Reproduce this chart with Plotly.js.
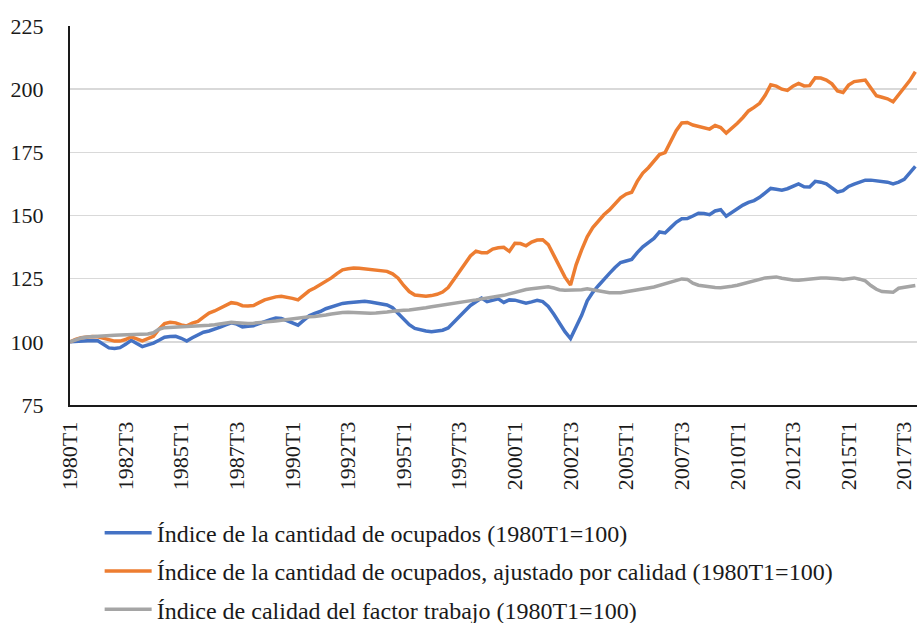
<!DOCTYPE html>
<html>
<head>
<meta charset="utf-8">
<script src="https://cdn.plot.ly/plotly-3.0.1.min.js"></script>
<style>html,body{margin:0;padding:0;background:#fff;}#chart{width:917px;height:623px;}</style>
</head>
<body>
<div id="chart"></div>
<script>
// Quarterly categories 1980T1 .. 2018T1
const startYear = 1980;
const nQuarters = 153;
const quarters = [];
for (let k = 0; k < nQuarters; k++) {
  quarters.push((startYear + Math.floor(k / 4)) + "T" + (k % 4 + 1));
}

const tickLabels = ["1980T1","1982T3","1985T1","1987T3","1990T1","1992T3","1995T1","1997T3",
  "2000T1","2002T3","2005T1","2007T3","2010T1","2012T3","2015T1","2017T3"];

const seriesNames = [
  "Índice de la cantidad de ocupados (1980T1=100)",
  "Índice de la cantidad de ocupados, ajustado por calidad (1980T1=100)",
  "Índice de calidad del factor trabajo (1980T1=100)"
];

const ocupados = [
100,100.2,100.3,100.4,100.5,100.4,99,97.6,97.4,97.7,
99,100.6,99.3,98.1,98.8,99.5,100.6,101.8,102.1,102.2,
101.4,100.3,101.6,102.9,103.8,104.3,104.9,105.8,106.7,107.5,
107,105.9,106.2,106.4,107.2,108.1,108.8,109.4,109.2,108.4,
107.5,106.6,108.5,110.3,111.3,112,113.1,113.9,114.6,115.2,
115.5,115.8,116,116.1,115.8,115.4,115,114.6,113.5,111.2,
109,106.8,105.3,104.7,104.3,104,104.2,104.6,105.5,107.6,
109.9,112.2,114.4,116,117.3,115.9,116.4,117,115.6,116.6,
116.5,116,115.3,115.8,116.4,115.9,114,110.9,107.5,104,
101.3,106,110.5,116.2,119.6,122.2,124.8,127.1,129.4,131.4,
132,132.6,135.3,137.6,139.3,140.9,143.5,143.1,145.2,147.3,
148.7,148.8,149.8,150.9,150.8,150.3,151.8,152.3,149.7,151.2,
152.7,154.1,155.2,155.9,157.2,159.1,160.7,160.4,160,160.6,
161.7,162.5,161.4,161.3,163.5,163.2,162.5,161.1,159.3,159.8,
161.5,162.4,163.3,164,164,163.8,163.6,163.2,162.5,163.2,
164.3,166.7,169.4];

const ajustado = [
100,101,101.6,102,102.1,102,101.4,100.6,100.3,100.3,
100.9,102,101.2,100.4,101.3,102.2,105,107.2,107.7,107.5,
106.7,106.3,107.4,108.1,109.8,111.4,112.2,113.2,114.2,115.5,
115.2,114.3,114.2,114.4,115.5,116.6,117.2,117.8,118,117.7,
117.2,116.6,118.5,120.2,121.3,122.6,124,125.3,127,128.5,
128.9,129.2,129.1,128.8,128.5,128.2,127.9,127.9,126.9,125.2,
122.3,119.9,118.5,118.2,118,118.3,118.8,119.7,121.5,124.6,
127.7,130.9,134,135.9,135.3,135.3,136.7,137.2,137.4,135.8,
139,138.9,138,139.5,140.3,140.4,138.5,134.2,130.2,125.6,
122.5,130.5,136.4,141.6,145.2,147.8,150.3,152.2,154.6,157,
158.5,159.2,163.5,166.8,168.9,171.4,174.1,174.9,179.3,183.6,
186.6,186.8,185.8,185.3,184.6,184.2,185.6,184.8,182.6,184.4,
186.5,188.8,191.4,192.8,194.4,197.6,201.7,201.2,200,199.5,
201.2,202.3,201.3,201.4,204.5,204.4,203.6,202.1,199.3,198.7,
201.6,203,203.2,203.6,200.5,197.4,196.8,196.2,195,197.8,
201.1,203.4,206.9];

const calidad = [
100,100.9,101.5,101.9,102.1,102.2,102.3,102.5,102.6,102.7,
102.8,102.9,102.8,102.9,103.1,103.6,105,105.6,105.7,105.8,
105.8,105.9,106.1,106.2,106.4,106.6,106.8,107.1,107.4,107.7,
107.6,107.3,107.3,107.4,107.5,107.7,108,108.2,108.5,108.8,
109.1,109.4,109.8,109.9,110,110.2,110.6,111,111.4,111.6,
111.7,111.6,111.4,111.2,111.3,111.4,111.5,111.8,112.1,112.4,
112.5,112.6,112.8,113.1,113.5,113.9,114.2,114.5,114.8,115.1,
115.4,115.7,116.1,116.6,117,117.3,117.7,118,118.4,119,
119.6,120.2,120.7,121,121.3,121.6,121.8,121.3,120.6,120.4,
120.4,120.4,120.6,121,120.7,120.4,119.8,119.4,119.4,119.4,
119.8,120.1,120.6,120.9,121.3,121.7,122.3,122.9,123.5,124.3,
124.9,124.7,123.2,122.4,122,121.8,121.5,121.4,121.6,122,
122.4,123,123.5,124.1,124.8,125.3,125.5,125.7,125.2,124.7,
124.5,124.4,124.7,125,125.3,125.3,125.3,125.3,125,124.7,
124.9,125.3,124.8,124.1,122.3,120.8,119.9,119.6,119.6,121.2,
121.5,121.9,122.3];

const colors = ["#4472C4", "#ED7D31", "#A5A5A5"];
const values = [ocupados, ajustado, calidad];

const traces = values.map((v, k) => ({
  type: "scatter",
  mode: "lines",
  x: quarters,
  y: v,
  name: seriesNames[k],
  legendgroup: "g" + k,
  line: {color: colors[k], width: 3.5},
  hoverinfo: "x+y"
}));

const serif = "Liberation Serif";

const layout = {
  width: 917,
  height: 623,
  margin: {l: 70, r: 0, t: 26, b: 218, autoexpand: false},
  paper_bgcolor: "#ffffff",
  plot_bgcolor: "#ffffff",
  font: {family: serif, color: "#1a1a1a"},
  showlegend: true,
  legend: {
    orientation: "v",
    x: 0.035,
    xanchor: "left",
    y: -0.279,
    yanchor: "top",
    font: {family: serif, size: 24, color: "#1a1a1a"},
    tracegroupgap: 4,
    itemwidth: 47,
    bgcolor: "rgba(0,0,0,0)"
  },
  xaxis: {
    type: "category",
    range: [0, 152.3],
    tickmode: "array",
    tickvals: tickLabels,
    ticktext: tickLabels,
    tickangle: -90,
    ticks: "",
    showgrid: false,
    showline: true,
    linecolor: "#1a1a1a",
    linewidth: 2,
    zeroline: false,
    tickfont: {family: serif, size: 22, color: "#1a1a1a"},
    ticklabelstandoff: 6
  },
  yaxis: {
    range: [75, 225],
    tickvals: [75, 100, 125, 150, 175, 200, 225],
    ticks: "",
    showgrid: true,
    gridcolor: "#d9d9d9",
    gridwidth: 1.5,
    showline: true,
    linecolor: "#1a1a1a",
    linewidth: 2,
    zeroline: false,
    tickfont: {family: serif, size: 22, color: "#1a1a1a"},
    ticklabelstandoff: 20
  }
};

Plotly.newPlot("chart", traces, layout, {displayModeBar: false, staticPlot: true});
</script>
</body>
</html>
